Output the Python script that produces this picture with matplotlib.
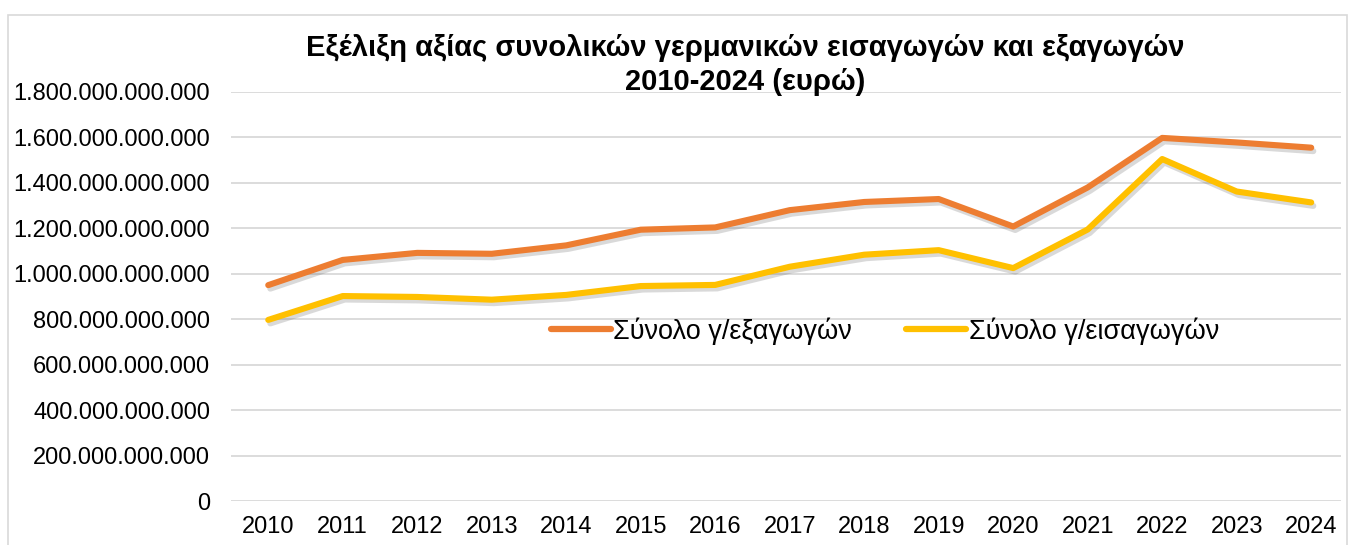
import matplotlib.pyplot as plt
import matplotlib.patheffects as pe
from matplotlib.patches import Rectangle
from matplotlib.ticker import FuncFormatter

plt.rcParams['font.family'] = ['Liberation Sans', 'DejaVu Sans']

years = [2010, 2011, 2012, 2013, 2014, 2015, 2016, 2017, 2018, 2019, 2020, 2021, 2022, 2023, 2024]
# values in billions of euro
exports_bn = [950, 1061, 1092, 1088, 1125, 1194, 1204, 1280, 1316, 1329, 1208, 1380, 1598, 1578, 1555]
imports_bn = [797, 902, 898, 886, 907, 946, 951, 1031, 1084, 1104, 1025, 1195, 1505, 1362, 1314]
labels = ['Σύνολο γ/εξαγωγών', 'Σύνολο γ/εισαγωγών']
colors = ['#ED7D31', '#FFC000']
title = 'Εξέλιξη αξίας συνολικών γερμανικών εισαγωγών και εξαγωγών\n2010-2024 (ευρώ)'


def dotted(v, pos):
    return '{:,.0f}'.format(v).replace(',', '.')


fig = plt.figure(figsize=(13.5, 5.45), dpi=100)
ax = fig.add_axes([231 / 1350, 44 / 545, (1341 - 231) / 1350, (501 - 92) / 545])

# outer chart border like the spreadsheet frame
fig.patches.append(Rectangle((8 / 1350, -0.05), 1339 / 1350, 1.05 - 15 / 545,
                             transform=fig.transFigure, fill=False,
                             edgecolor='#d9d9d9', linewidth=1.2))

x = list(range(len(years)))
shadow = [pe.SimpleLineShadow(offset=(1.5, -2.5), alpha=0.22, shadow_color='#555555'), pe.Normal()]
for vals, lab, col in zip([exports_bn, imports_bn], labels, colors):
    ax.plot(x, [v * 1e9 for v in vals], color=col, linewidth=4.4, label=lab,
            solid_capstyle='round', solid_joinstyle='round', path_effects=shadow, zorder=3)

ax.set_xlim(-0.5, len(years) - 0.6)
ax.set_ylim(0, 1.8e12)
ax.set_yticks([i * 2e11 for i in range(10)])
ax.yaxis.set_major_formatter(FuncFormatter(dotted))
ax.set_xticks(x)
ax.set_xticklabels([str(y) for y in years])
ax.tick_params(axis='both', length=0, colors='#000000')
ax.tick_params(axis='y', pad=15, labelsize=17)
ax.tick_params(axis='x', pad=11, labelsize=17)
ax.grid(axis='y', color='#d9d9d9', linewidth=1.3)
ax.set_axisbelow(True)
for s in ax.spines.values():
    s.set_visible(False)

fig.text(745 / 1350, 1 - 65 / 545, title, ha='center', va='center',
         fontsize=21, fontweight='bold', linespacing=1.3)

leg = ax.legend(loc='center', bbox_to_anchor=(885 / 1350, 1 - 331 / 545),
                bbox_transform=fig.transFigure, ncol=2, frameon=False,
                fontsize=19.5, handlelength=2.2, handletextpad=0.1, columnspacing=2.0,
                borderpad=0.1)
for h in leg.get_lines():
    h.set_linewidth(4.5)
    h.set_path_effects([])

fig.savefig('out.png', dpi=100)
